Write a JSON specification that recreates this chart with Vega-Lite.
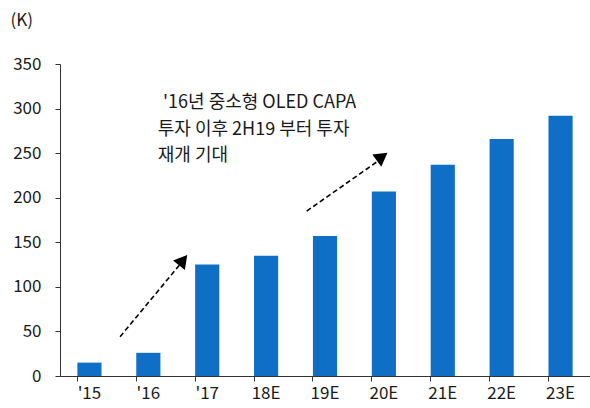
{
  "$schema": "https://vega.github.io/schema/vega-lite/v6.json",
  "width": 530,
  "height": 312,
  "autosize": {"type": "none"},
  "padding": {"left": 60, "top": 64, "right": 0, "bottom": 32},
  "background": "white",
  "config": {
    "view": {"stroke": null},
    "font": "Noto Sans CJK KR",
    "axis": {"labelFont": "Noto Sans CJK KR", "titleFont": "Noto Sans CJK KR"},
    "axisY": {
      "values": [0, 50, 100, 150, 200, 250, 300, 350],
      "titleAngle": 0, "titleAlign": "left", "titleBaseline": "middle",
      "titleX": -50, "titleY": -44, "titleFontSize": 17, "titleFontWeight": "normal", "titleColor": "#1a1a1a",
      "labelFontSize": 17, "labelColor": "#1a1a1a", "labelPadding": 14,
      "domainColor": "#333", "tickColor": "#333", "tickSize": 5, "grid": false
    }
  },
  "datasets": {
    "bars": [
      {"year": "'15", "value": 15},
      {"year": "'16", "value": 26},
      {"year": "'17", "value": 125},
      {"year": "18E", "value": 135},
      {"year": "19E", "value": 157},
      {"year": "20E", "value": 207},
      {"year": "21E", "value": 237},
      {"year": "22E", "value": 266},
      {"year": "23E", "value": 292}
    ],
    "arrows": [
      {"arrow": "a1", "order": 0, "x": 1.02, "y": 44},
      {"arrow": "a1", "order": 1, "x": 2.06, "y": 127},
      {"arrow": "a2", "order": 0, "x": 4.19, "y": 185},
      {"arrow": "a2", "order": 1, "x": 5.42, "y": 242}
    ],
    "heads": [
      {"arrow": "a1", "x": 2.09, "y": 130},
      {"arrow": "a2", "x": 5.47, "y": 246}
    ],
    "notes": [
      {"line": 1, "x": 1.75, "y": 306, "text": "'16년 중소형 OLED CAPA"},
      {"line": 2, "x": 1.66, "y": 276.5, "text": "투자 이후 2H19 부터 투자"},
      {"line": 3, "x": 1.66, "y": 247, "text": "재개 기대"}
    ]
  },
  "layer": [
    {
      "data": {"name": "bars"},
      "mark": {"type": "bar", "color": "#0F6EC6"},
      "encoding": {
        "x": {
          "field": "year", "type": "nominal", "sort": null,
          "scale": {"paddingInner": 0.59, "paddingOuter": 0.295},
          "axis": {
            "title": null, "labelAngle": 0, "labelFontSize": 17, "labelColor": "#1a1a1a",
            "domainColor": "#333", "tickColor": "#333", "tickSize": 5, "labelPadding": 4,
            "bandPosition": 0, "grid": false
          }
        },
        "y": {
          "field": "value", "type": "quantitative", "title": "(K)",
          "scale": {"domain": [0, 350], "nice": false}
        }
      }
    },
    {
      "data": {"name": "arrows"},
      "mark": {"type": "line", "color": "black", "strokeWidth": 1.6, "strokeDash": [5, 3]},
      "encoding": {
        "x": {"field": "x", "type": "quantitative", "scale": {"domain": [0, 9], "nice": false}, "axis": null},
        "y": {"field": "y", "type": "quantitative", "title": "(K)", "scale": {"domain": [0, 350], "nice": false}},
        "detail": {"field": "arrow"},
        "order": {"field": "order"}
      }
    },
    {
      "data": {"name": "heads"},
      "transform": [{"filter": "datum.arrow === 'a1'"}],
      "mark": {"type": "point", "shape": "triangle-up", "filled": true, "color": "black", "opacity": 1, "size": 230, "angle": 39},
      "encoding": {
        "x": {"field": "x", "type": "quantitative", "scale": {"domain": [0, 9], "nice": false}, "axis": null},
        "y": {"field": "y", "type": "quantitative", "title": "(K)", "scale": {"domain": [0, 350], "nice": false}}
      }
    },
    {
      "data": {"name": "heads"},
      "transform": [{"filter": "datum.arrow === 'a2'"}],
      "mark": {"type": "point", "shape": "triangle-up", "filled": true, "color": "black", "opacity": 1, "size": 230, "angle": 54},
      "encoding": {
        "x": {"field": "x", "type": "quantitative", "scale": {"domain": [0, 9], "nice": false}, "axis": null},
        "y": {"field": "y", "type": "quantitative", "title": "(K)", "scale": {"domain": [0, 350], "nice": false}}
      }
    },
    {
      "data": {"name": "notes"},
      "mark": {"type": "text", "align": "left", "baseline": "middle", "fontSize": 18, "color": "#1a1a1a"},
      "encoding": {
        "x": {"field": "x", "type": "quantitative", "scale": {"domain": [0, 9], "nice": false}, "axis": null},
        "y": {"field": "y", "type": "quantitative", "title": "(K)", "scale": {"domain": [0, 350], "nice": false}},
        "text": {"field": "text"}
      }
    }
  ],
  "resolve": {"scale": {"x": "independent"}, "axis": {"x": "independent"}}
}
